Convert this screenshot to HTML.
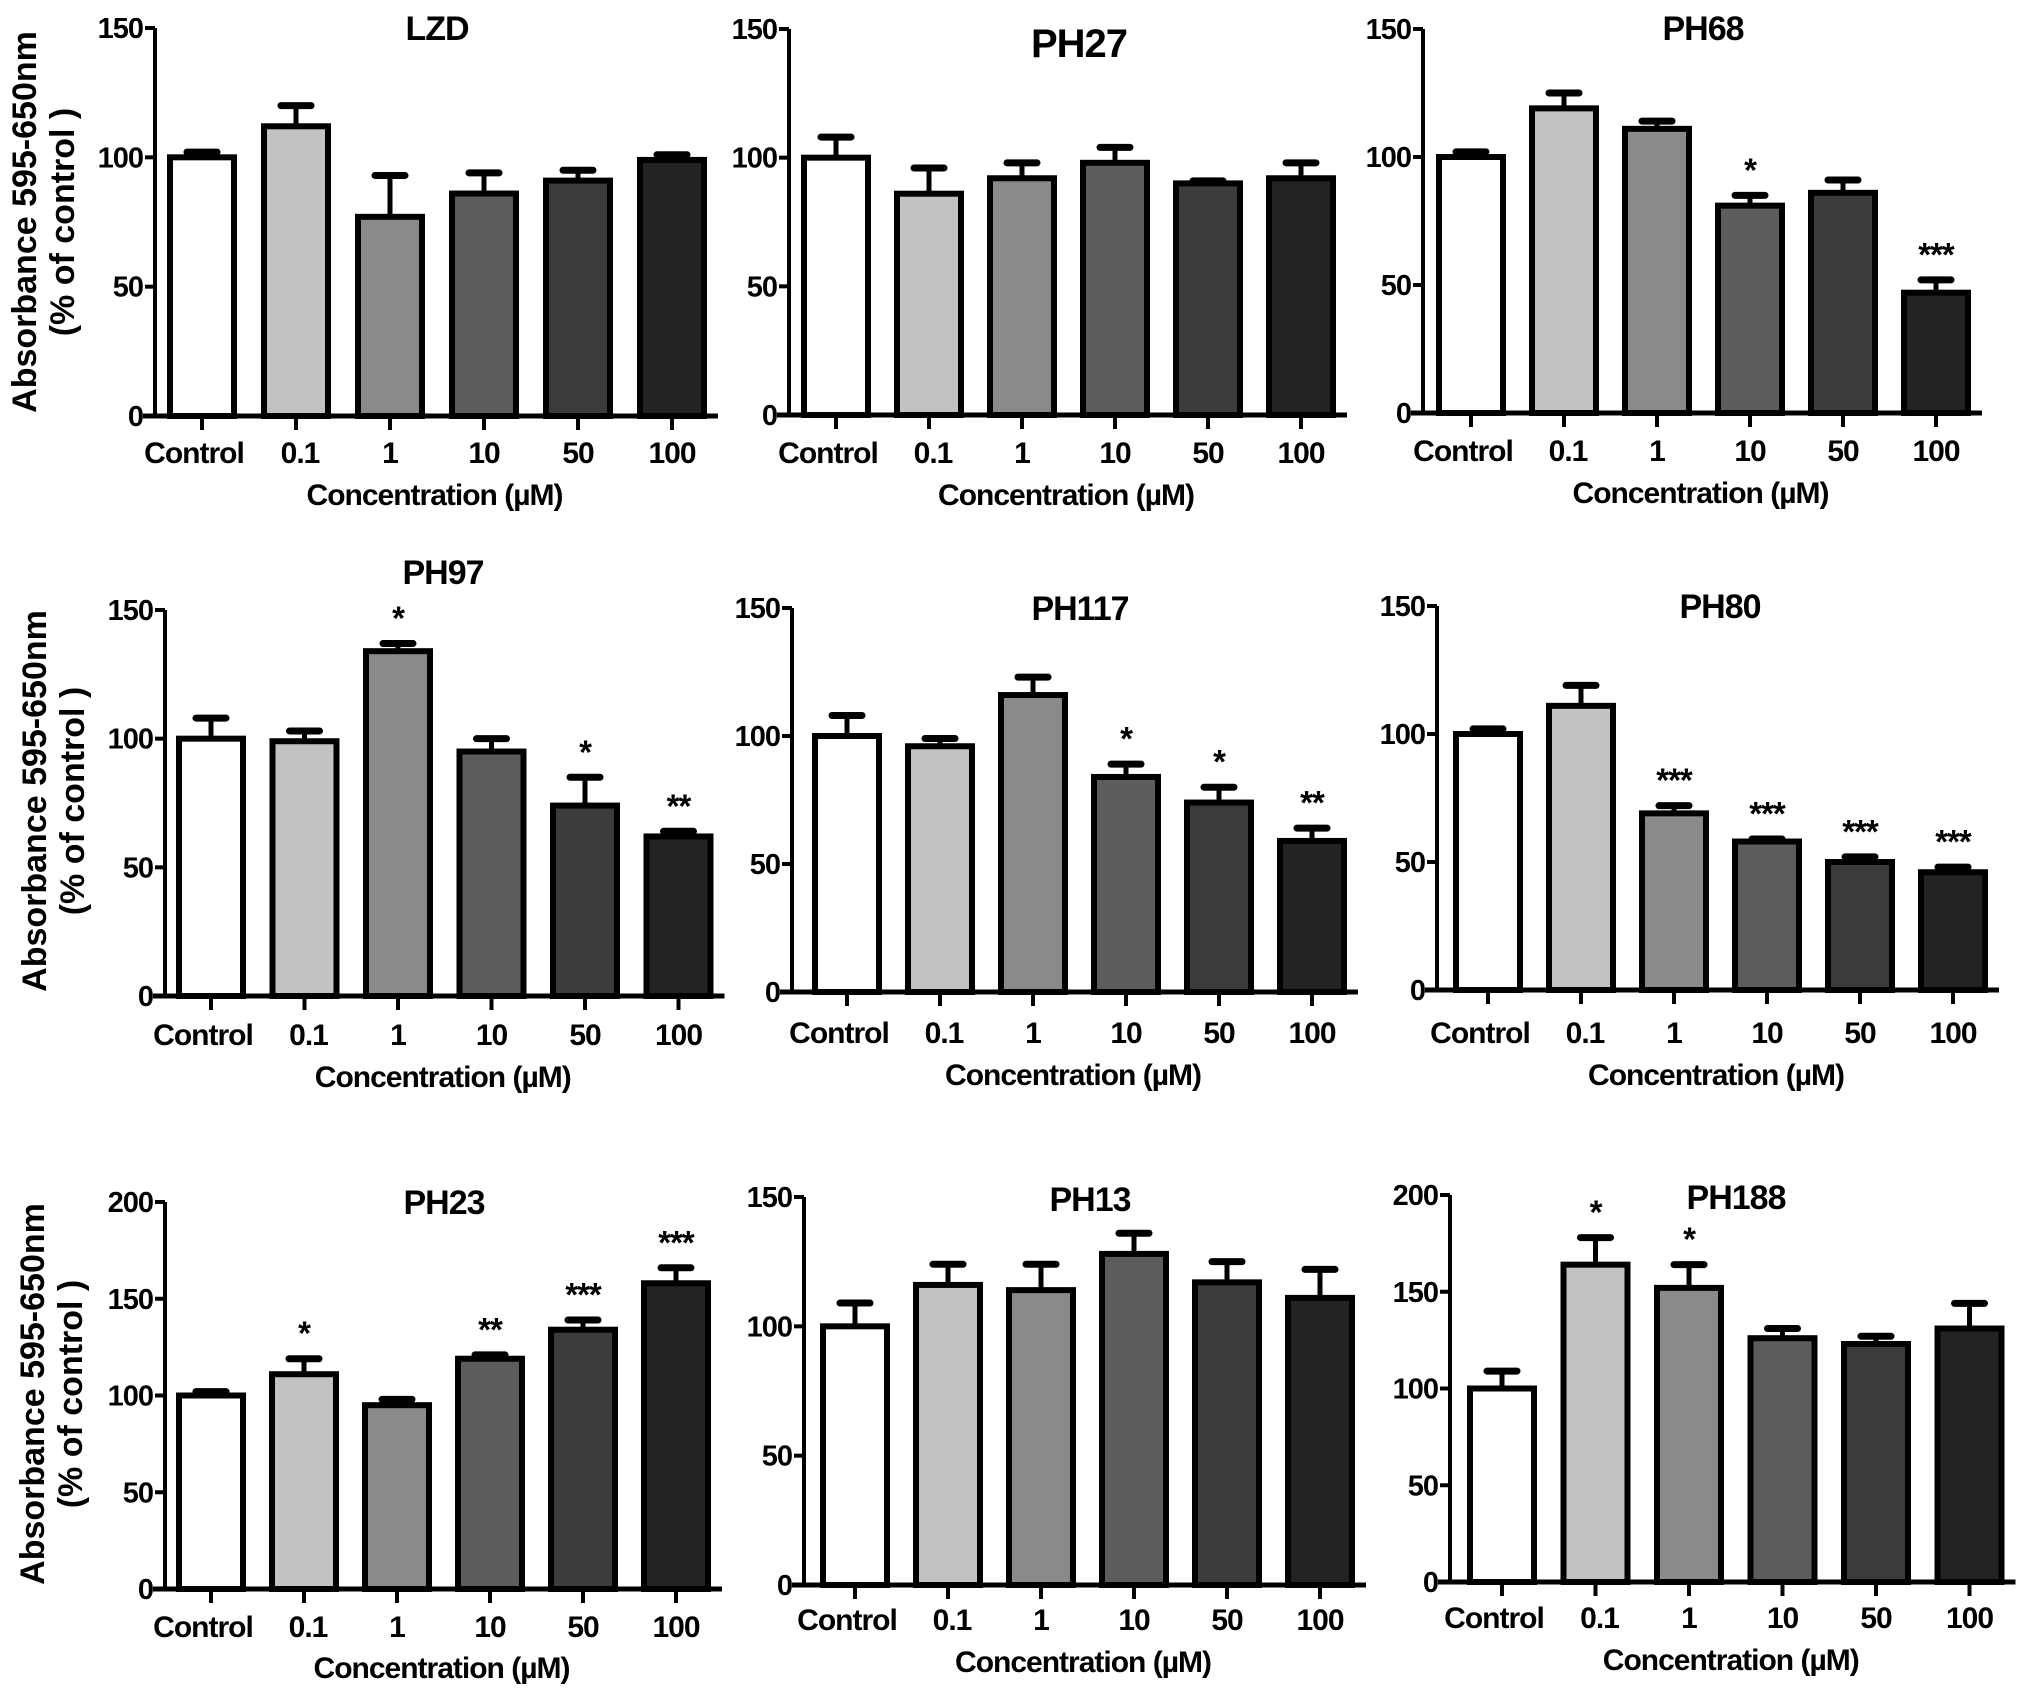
<!DOCTYPE html>
<html><head><meta charset="utf-8">
<style>
html,body{margin:0;padding:0;background:#fff;}
svg{display:block;}
text{font-family:"Liberation Sans Narrow","Liberation Sans",sans-serif;font-weight:bold;fill:#000;letter-spacing:-1px;}
.yt{font-family:"Liberation Sans",sans-serif;font-weight:bold;font-size:34px;letter-spacing:0;}
</style></head>
<body>
<svg id="fig" xmlns="http://www.w3.org/2000/svg" width="2031" height="1696" viewBox="0 0 2031 1696">
<text class="yt" transform="translate(36,222) rotate(-90)" text-anchor="middle">Absorbance 595-650nm</text>
<text class="yt" transform="translate(74,222) rotate(-90)" text-anchor="middle">(% of control )</text>
<text class="yt" transform="translate(46,801) rotate(-90)" text-anchor="middle">Absorbance 595-650nm</text>
<text class="yt" transform="translate(84,801) rotate(-90)" text-anchor="middle">(% of control )</text>
<text class="yt" transform="translate(44,1394) rotate(-90)" text-anchor="middle">Absorbance 595-650nm</text>
<text class="yt" transform="translate(82,1394) rotate(-90)" text-anchor="middle">(% of control )</text>
</svg>
<script>
const categories = ["Control","0.1","1","10","50","100"];
const fills = ["#ffffff","#c2c2c2","#8a8a8a","#5c5c5c","#3c3c3c","#232323"];
const titles = ["LZD","PH27","PH68","PH97","PH117","PH80","PH23","PH13","PH188"];
const meansLZD = [100,112,77,86,91,99];
const errsLZD = [2,8,16,8,4,2];
const meansPH27 = [100,86,92,98,90,92];
const errsPH27 = [8,10,6,6,1,6];
const meansPH68 = [100,119,111,81,86,47];
const errsPH68 = [2,6,3,4,5,5];
const meansPH97 = [100,99,134,95,74,62];
const errsPH97 = [8,4,3,5,11,2];
const meansPH117 = [100,96,116,84,74,59];
const errsPH117 = [8,3,7,5,6,5];
const meansPH80 = [100,111,69,58,50,46];
const errsPH80 = [2,8,3,1,2,2];
const meansPH23 = [100,111,95,119,134,158];
const errsPH23 = [2,8,3,2,5,8];
const meansPH13 = [100,116,114,128,117,111];
const errsPH13 = [9,8,10,8,8,11];
const meansPH188 = [100,164,152,126,123,131];
const errsPH188 = [9,14,12,5,4,13];
const starsPH68 = ["","","","*","","***"];
const starsPH97 = ["","","*","","*","**"];
const starsPH117 = ["","","","*","*","**"];
const starsPH80 = ["","","***","***","***","***"];
const starsPH23 = ["","*","","**","***","***"];
const starsPH188 = ["","*","*","","",""];
const noStars = ["","","","","",""];
const ticks150 = [0,50,100,150];
const ticks200 = [0,50,100,150,200];

const NS = "http://www.w3.org/2000/svg";
const svg = document.getElementById("fig");
function mk(tag, attrs, parent){
  const e = document.createElementNS(NS, tag);
  for (const k in attrs) e.setAttribute(k, attrs[k]);
  (parent||svg).appendChild(e);
  return e;
}
const panels = [
 {t:0, m:meansLZD, e:errsLZD, s:noStars, tk:ticks150, ax:155, yt:28, y0:416, c0:202, sp:94, tx:437, ty:40, tl:463, xt:505, ts:34},
 {t:1, m:meansPH27, e:errsPH27, s:noStars, tk:ticks150, ax:789, yt:29, y0:415, c0:836, sp:93, tx:1079, ty:57, tl:463, xt:505, ts:40},
 {t:2, m:meansPH68, e:errsPH68, s:starsPH68, tk:ticks150, ax:1423, yt:29, y0:413, c0:1471, sp:93, tx:1703, ty:40, tl:461, xt:503, ts:34},
 {t:3, m:meansPH97, e:errsPH97, s:starsPH97, tk:ticks150, ax:165, yt:610, y0:996, c0:211, sp:93.5, tx:443, ty:584, tl:1045, xt:1087, ts:34},
 {t:4, m:meansPH117, e:errsPH117, s:starsPH117, tk:ticks150, ax:792, yt:608, y0:992, c0:847, sp:93, tx:1080, ty:620, tl:1043, xt:1085, ts:34},
 {t:5, m:meansPH80, e:errsPH80, s:starsPH80, tk:ticks150, ax:1437, yt:606, y0:990, c0:1488, sp:93, tx:1720, ty:618, tl:1043, xt:1085, ts:34},
 {t:6, m:meansPH23, e:errsPH23, s:starsPH23, tk:ticks200, ax:165, yt:1202, y0:1589, c0:211, sp:93, tx:444, ty:1214, tl:1637, xt:1678, ts:34},
 {t:7, m:meansPH13, e:errsPH13, s:noStars, tk:ticks150, ax:804, yt:1197, y0:1585, c0:855, sp:93, tx:1090, ty:1211, tl:1630, xt:1672, ts:34},
 {t:8, m:meansPH188, e:errsPH188, s:starsPH188, tk:ticks200, ax:1450, yt:1195, y0:1582, c0:1502, sp:93.5, tx:1736, ty:1209, tl:1628, xt:1670, ts:34}
];
panels.forEach(p=>{
  const g = mk("g",{});
  
  
  const vmax = p.tk[p.tk.length-1];
  const yS = v => p.y0 - (p.y0 - p.yt) * v / vmax;
  const xS = i => p.c0 + i * p.sp;
  const bw = 64;
  const tt = mk("text",{x:p.tx, y:p.ty, "text-anchor":"middle", "font-size":p.ts}, g);
  tt.textContent = titles[p.t];
  
  
  p.m.forEach((v,i)=>{
    const x = xS(i), y = yS(v), ye = yS(v + p.e[i]);
    const eb = mk("line",{x1:x, x2:x, y1:y, y2:ye, stroke:"#000", "stroke-width":5}, g);
    
    
    const cap = mk("line",{x1:x-15, x2:x+15, y1:ye, y2:ye, stroke:"#000", "stroke-width":7, "stroke-linecap":"round"}, g);
    
    
    const r = mk("rect",{x:x-bw/2, y:y, width:bw, height:p.y0 - y, fill:fills[i], stroke:"#000", "stroke-width":6}, g);
    
    
    if (p.s[i]) {
      const st = mk("text",{x:x, y:ye - 14, "text-anchor":"middle", "font-size":33}, g);
      st.textContent = p.s[i];
      
      
    }
    const tk = mk("line",{x1:x, x2:x, y1:p.y0, y2:p.y0+14, stroke:"#000", "stroke-width":4}, g);
    
    
    const lb = mk("text",{x: i===0 ? x-8 : (i===1 ? x+4 : x), y:p.tl, "text-anchor":"middle", "font-size":30}, g);
    lb.textContent = categories[i];
    
    
  });
  const xa = mk("line",{x1:p.ax-12, x2:xS(5)+bw/2+14, y1:p.y0, y2:p.y0, stroke:"#000", "stroke-width":5}, g);
  
  
  const ya = mk("line",{x1:p.ax, x2:p.ax, y1:p.yt, y2:p.y0, stroke:"#000", "stroke-width":4}, g);
  
  
  p.tk.forEach(v=>{
    const l = mk("line",{x1:p.ax-10, x2:p.ax, y1:yS(v), y2:yS(v), stroke:"#000", "stroke-width":4}, g);
    
    
    const t = mk("text",{x:p.ax-12, y:yS(v)+10, "text-anchor":"end", "font-size":29}, g);
    t.textContent = v;
    
    
  });
  const xt = mk("text",{x:(p.ax + xS(5)+bw/2)/2 + 5, y:p.xt, "text-anchor":"middle", "font-size":30}, g);
  xt.textContent = "Concentration (\u00b5M)";
  
  
});
</script>
</body></html>
